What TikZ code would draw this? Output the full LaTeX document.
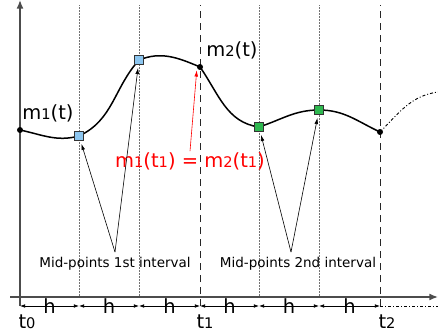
\documentclass[tikz,border=0pt]{standalone}
\usepackage{fontspec}
\setmainfont{DejaVu Sans}
\usepackage{graphicx}
\usetikzlibrary{arrows.meta,positioning}
\definecolor{midblue}{RGB}{140,198,240}
\definecolor{midgreen}{RGB}{46,184,80}
\newcommand{\lo}[1]{\scalebox{0.75}{#1}}
\tikzset{
    axisline/.style={draw=black!70, line width=1.4pt, -{Latex[length=3mm,width=2.4mm]}},
    gridline/.style={draw=black!55, densely dotted, line width=0.5pt},
    stepline/.style={draw=black!85, dash pattern=on 7pt off 5pt, line width=0.9pt},
    harrow/.style={{Latex[length=1.8mm,width=1.3mm]}-{Latex[length=1.8mm,width=1.3mm]}, line width=0.8pt},
    curveline/.style={line width=1.5pt},
    dashdotline/.style={line width=0.9pt, dash pattern=on 3pt off 2pt on 1pt off 2pt},
    ptrarrow/.style={-{Latex[length=2.2mm,width=1.3mm]}, line width=0.6pt},
    bluesq/.style={draw=black!80, fill=midblue, minimum size=9pt, inner sep=0pt, line width=0.7pt},
    greensq/.style={draw=black!80, fill=midgreen, minimum size=9pt, inner sep=0pt, line width=0.7pt},
    dot/.style={circle, fill=black, minimum size=6pt, inner sep=0pt},
    biglabel/.style={font=\fontsize{19.5}{22}\selectfont, inner sep=1pt},
    timelabel/.style={font=\fontsize{19.5}{22}\selectfont, inner sep=0pt, anchor=base},
    smalllabel/.style={font=\fontsize{13.5}{15}\selectfont, inner sep=1pt},
    hlabel/.style={font=\fontsize{19.5}{22}\selectfont, inner sep=0pt}
}
\begin{document}
\begin{tikzpicture}[x=1pt, y=1pt]
    \useasboundingbox (0,0) rectangle (438,332);
    % grid of sub-steps
    \foreach \x in {79,139,259,319}
        \draw[gridline] (\x,35) -- (\x,327);
    \foreach \x in {200,380}
        \draw[stepline] (\x,26) -- (\x,327);
    % axes
    \coordinate (xstart) at (10,35);
    \coordinate (xend) at (438,35);
    \coordinate (ystart) at (20,26);
    \coordinate (yend) at (20,332);
    \draw[axisline] (xstart) -- (xend);
    \draw[axisline] (ystart) -- (yend);
    % h steps
    \foreach \i/\x in {0/20,1/79,2/139,3/200,4/259,5/319,6/380}
        \coordinate (s\i) at (\x,26);
    \coordinate (send) at (438,26);
    \foreach \a/\b in {0/1,1/2,2/3,3/4,4/5,5/6}
        \draw[harrow] (s\a) -- node[hlabel]{h} (s\b);
    \draw[dashdotline] (s6) -- (send);
    \node[timelabel] (lt0) at (27,4) {t\lo{0}};
    \node[timelabel] (lt1) at (205,4) {t\lo{1}};
    \node[timelabel] (lt2) at (387,4) {t\lo{2}};
    % solution curve
    \coordinate (p0) at (20,202);
    \coordinate (p1) at (79,196);
    \coordinate (p2) at (139,272);
    \coordinate (p3) at (200,265);
    \coordinate (p4) at (259,205);
    \coordinate (p5) at (319,222);
    \coordinate (p6) at (380,200);
    \coordinate (p7) at (438,240);
    \draw[curveline] (p0) to[out=-12,in=195] (p1) to[out=25,in=228] (p2)
        to[out=22,in=157] (p3) to[out=-55,in=172] (p4) to[out=18,in=180] (p5)
        to[out=0,in=155] (p6);
    \draw[dashdotline] (p6) to[out=45,in=188] (p7);
    \node[dot] (a) at (p0) {};
    \node[dot] (c) at (p3) {};
    \node[dot] (d) at (p6) {};
    \node[bluesq] (b1) at (p1) {};
    \node[bluesq] (b2) at (p2) {};
    \node[greensq] (g1) at (p4) {};
    \node[greensq] (g2) at (p5) {};
    % labels
    \node[biglabel] (lab1) at (48,219) {m\lo{1}(t)};
    \node[biglabel] (lab2) at (232,282) {m\lo{2}(t)};
    \node[biglabel, text=red] (eq) at (190,171) {m\lo{1}(t\lo{1}) = m\lo{2}(t\lo{1})};
    \draw[ptrarrow, red] (eq.north) -- ([shift={(-1,-1)}]c.south west);
    % mid-points
    \node[smalllabel] (mp1) at (115,68) {Mid-points 1st interval};
    \node[smalllabel] (mp2) at (298,68) {Mid-points 2nd interval};
    \coordinate (v1) at (115,80);
    \coordinate (v2) at (291,80);
    \draw[ptrarrow, shorten >=3pt] (v1) -- (b1);
    \draw[ptrarrow, shorten >=3pt] (v1) -- (b2);
    \draw[ptrarrow, shorten >=3pt] (v2) -- (g1);
    \draw[ptrarrow, shorten >=3pt] (v2) -- (g2);
\end{tikzpicture}
\end{document}
